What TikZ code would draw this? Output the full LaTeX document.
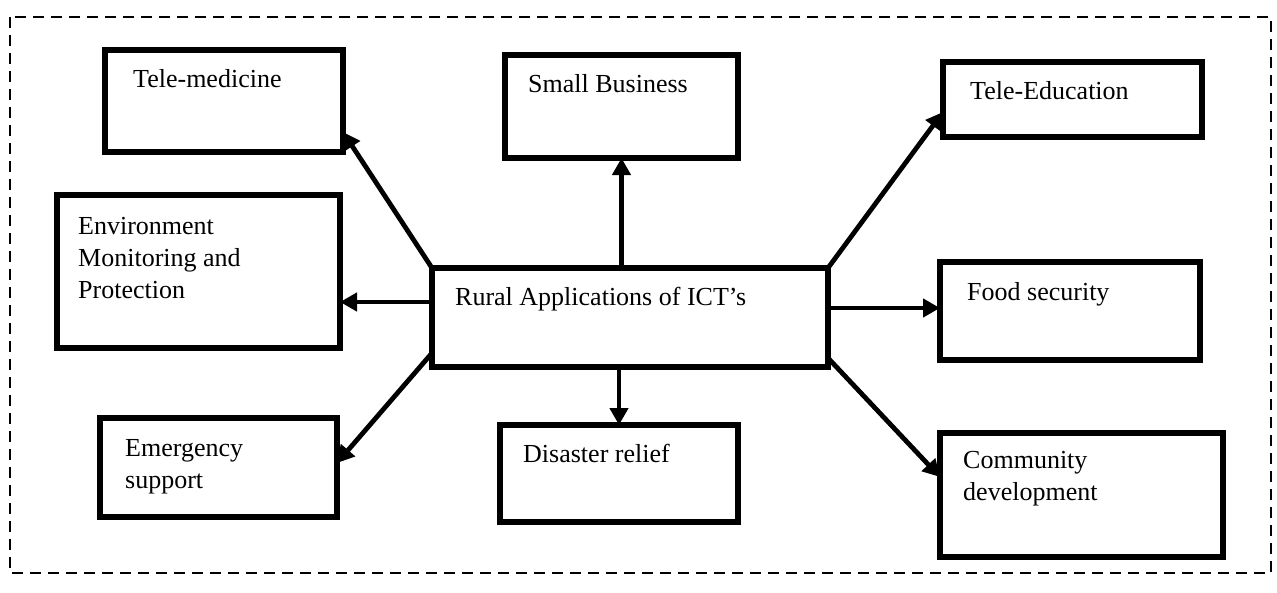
\documentclass[tikz,border=0pt]{standalone}
\usepackage{fontspec}
\setmainfont{Liberation Serif}
\usetikzlibrary{arrows.meta,calc}
\begin{document}
\begin{tikzpicture}[x=1pt,y=-1pt,
  box/.style={draw=black, line width=5.5pt, fill=white, inner sep=0pt, outer sep=0pt, anchor=north west},
  txt/.style={inner sep=0pt, anchor=north west, align=left, font=\fontsize{26}{32}\selectfont},
  link/.style={line width=4.8pt, -{Triangle[length=17pt,width=18pt]}},
  frame/.style={draw=black, line width=2pt, dash pattern=on 11pt off 7pt}]
  \useasboundingbox (0,0) rectangle (1277,592);

  % outer dashed frame
  \draw[frame] (10,17) rectangle (1271,573);

  % boxes
  \node[box, minimum width=238, minimum height=102] (tm)   at (105,50)  {};
  \node[box, minimum width=233, minimum height=103] (sb)   at (505,55)  {};
  \node[box, minimum width=259, minimum height=75]  (te)   at (943,62)  {};
  \node[box, minimum width=283, minimum height=153] (env)  at (57,195)  {};
  \node[box, minimum width=396, minimum height=99]  (rur)  at (432,268) {};
  \node[box, minimum width=260, minimum height=98]  (food) at (940,262) {};
  \node[box, minimum width=237, minimum height=99]  (em)   at (100,418) {};
  \node[box, minimum width=238, minimum height=97]  (dis)  at (500,425) {};
  \node[box, minimum width=283, minimum height=124] (com)  at (940,433) {};

  % labels
  \node[txt] (tmt)   at ($(tm.north west)+(28,19)$)   {Tele-medicine};
  \node[txt] (sbt)   at ($(sb.north west)+(23,19)$)   {Small Business};
  \node[txt] (tet)   at ($(te.north west)+(27,19)$)   {Tele-Education};
  \node[txt] (envt)  at ($(env.north west)+(21,22)$)  {Environment\\Monitoring and\\Protection};
  \node[txt] (rurt)  at ($(rur.north west)+(23,19)$)  {Rural Applications of ICT’s};
  \node[txt] (foodt) at ($(food.north west)+(27,20)$) {Food security};
  \node[txt] (emt)   at ($(em.north west)+(25,21)$)   {Emergency\\support};
  \node[txt] (dist)  at ($(dis.north west)+(23,19)$)  {Disaster relief};
  \node[txt] (comt)  at ($(com.north west)+(23,18)$)  {Community\\development};

  % start and end points of the connectors
  \coordinate (rl) at ($(rur.north west)+(0,34)$);
  \coordinate (rr) at ($(rur.north east)+(0,40)$);
  \coordinate (tmend) at ($(tm.south east)+(0,-20)$);
  \coordinate (teend) at ($(te.south west)+(0,-25)$);
  \coordinate (emstart) at ($(rur.south west)+(0,-14)$);
  \coordinate (emend) at ($(em.south east)+(0,-54)$);
  \coordinate (comstart) at ($(rur.south east)+(0,-9)$);
  \coordinate (comend) at ($(com.north west)+(0,44)$);

  % connectors from the centre box
  \draw[link] (rur.north west) -- (tmend);
  \draw[link] (rur.north -| sb.south) -- (sb.south);
  \draw[link] (rur.north east) -- (teend);
  \draw[link] (rl) -- (rl -| env.east);
  \draw[link] (rr) -- (rr -| food.west);
  \draw[link] (emstart) -- (emend);
  \draw[link] (rur.south -| dis.north) -- (dis.north);
  \draw[link] (comstart) -- (comend);
\end{tikzpicture}
\end{document}
